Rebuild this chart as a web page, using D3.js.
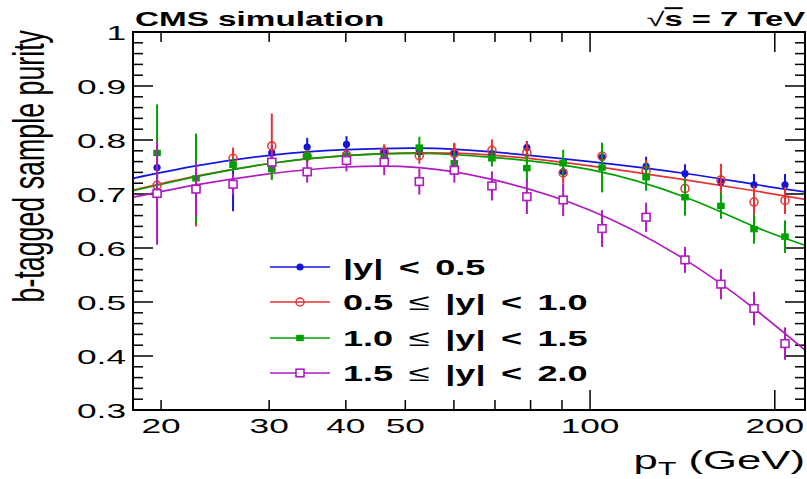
<!DOCTYPE html>
<html>
<head>
<meta charset="utf-8">
<title>b-tagged sample purity</title>
<style>
  body { margin: 0; background: #fff; }
  text { font-family: "Liberation Sans", Arial, sans-serif; fill: #000; }
</style>
</head>
<body>
<script src="https://cdn.jsdelivr.net/npm/d3@7"></script>
<script>
// bin centres (GeV)
var ptBins = [19.7, 22.8, 26.2, 30.3, 34.6, 40.1, 46.2, 52.7, 60.1, 69.2, 78.9, 90.4, 104.6, 123.4, 142.8, 163.4, 185, 207.8];

var blueVal  = [0.749, 0.709, 0.718, 0.776, 0.787, 0.792, 0.777, 0.778, 0.777, 0.775, 0.786, 0.741, 0.768, 0.751, 0.738, 0.722, 0.717, 0.717];
var blueErr  = [0.020, 0.030, 0.050, 0.015, 0.017, 0.015, 0.012, 0.012, 0.016, 0.012, 0.012, 0.012, 0.012, 0.018, 0.017, 0.014, 0.020, 0.020];
var redVal   = [0.716, 0.710, 0.766, 0.789, 0.770, 0.772, 0.777, 0.771, 0.775, 0.781, 0.777, 0.739, 0.770, 0.743, 0.710, 0.726, 0.685, 0.688];
var redErr   = [0.020, 0.070, 0.020, 0.060, 0.012, 0.012, 0.015, 0.015, 0.020, 0.020, 0.020, 0.020, 0.015, 0.020, 0.020, 0.030, 0.030, 0.025];
var greenVal = [0.776, 0.729, 0.754, 0.746, 0.770, 0.771, 0.769, 0.786, 0.757, 0.766, 0.748, 0.757, 0.749, 0.731, 0.694, 0.678, 0.635, 0.621];
var greenErr = [0.090, 0.083, 0.012, 0.020, 0.010, 0.012, 0.015, 0.020, 0.020, 0.015, 0.025, 0.025, 0.046, 0.025, 0.034, 0.024, 0.027, 0.030];
var purpVal  = [0.701, 0.709, 0.718, 0.759, 0.741, 0.762, 0.759, 0.723, 0.744, 0.715, 0.695, 0.689, 0.636, 0.657, 0.578, 0.533, 0.488, 0.423];
var purpErr  = [0.095, 0.050, 0.020, 0.015, 0.020, 0.020, 0.024, 0.024, 0.023, 0.027, 0.032, 0.030, 0.034, 0.027, 0.024, 0.028, 0.031, 0.030];

// fitted curves
var fitPt     = [18, 22.8, 30.3, 40, 52.7, 69.2, 100, 143, 185, 224];
var blueFit   = [0.729, 0.752, 0.772, 0.782, 0.785, 0.778, 0.760, 0.738, 0.718, 0.704];
var redFit    = [0.707, 0.733, 0.757, 0.771, 0.776, 0.772, 0.752, 0.726, 0.706, 0.690];
var greenFit  = [0.706, 0.732, 0.757, 0.771, 0.775, 0.768, 0.745, 0.694, 0.640, 0.605];
var purpFit   = [0.694, 0.717, 0.738, 0.750, 0.749, 0.727, 0.670, 0.578, 0.488, 0.411];

var legendLabels = [["|y| < 0.5"], ["0.5 ", "\u2264", " |y| < 1.0"], ["1.0 ", "\u2264", " |y| < 1.5"], ["1.5 ", "\u2264", " |y| < 2.0"]];
var xTickLabels = [20, 30, 40, 50, 100, 200];
var yTickLabels = ["0.3", "0.4", "0.5", "0.6", "0.7", "0.8", "0.9", "1"];

(function () {
  var series = [
    { val: blueVal,  err: blueErr,  fit: blueFit,  color: "#1414dc", marker: "dot" },
    { val: redVal,   err: redErr,   fit: redFit,   color: "#e83232", marker: "ocircle" },
    { val: greenVal, err: greenErr, fit: greenFit, color: "#00a000", marker: "square" },
    { val: purpVal,  err: purpErr,  fit: purpFit,  color: "#b01cc0", marker: "osquare" }
  ];

  var W = 807, H = 479;
  var pLeft = 133, pRight = 805, pTop = 32, pBottom = 410;
  var SX = 1.68; // the picture is stretched sideways

  var svg = d3.select("body").append("svg").attr("width", W).attr("height", H);

  var x = d3.scaleLog().domain([18, 224]).range([pLeft, pRight]);
  var y = d3.scaleLinear().domain([0.3, 1]).range([pBottom, pTop]);

  svg.append("clipPath").attr("id", "plot")
    .append("rect").attr("x", pLeft).attr("y", pTop).attr("width", pRight - pLeft).attr("height", pBottom - pTop);

  // ticks
  var ticks = svg.append("g").attr("stroke", "#000").attr("stroke-width", 1.5);
  d3.range(0, 36).forEach(function (k) {
    var v = 0.3 + k * 0.02;
    var len = (k % 5 === 0) ? 20 : 10;
    ticks.append("line").attr("x1", pLeft).attr("x2", pLeft + len).attr("y1", y(v)).attr("y2", y(v));
    ticks.append("line").attr("x1", pRight).attr("x2", pRight - len).attr("y1", y(v)).attr("y2", y(v));
  });
  [20, 30, 40, 50, 60, 70, 80, 90, 100, 200].forEach(function (v) {
    var len = (v === 100 || v === 200) ? 20 : 10;
    ticks.append("line").attr("x1", x(v)).attr("x2", x(v)).attr("y1", pBottom).attr("y2", pBottom - len);
    ticks.append("line").attr("x1", x(v)).attr("x2", x(v)).attr("y1", pTop).attr("y2", pTop + len);
  });

  // fits
  var line = d3.line().x(function (d) { return x(d[0]); }).y(function (d) { return y(d[1]); }).curve(d3.curveNatural);
  var fits = svg.append("g").attr("clip-path", "url(#plot)");
  series.forEach(function (s) {
    fits.append("path")
      .attr("d", line(fitPt.map(function (p, i) { return [p, s.fit[i]]; })))
      .attr("fill", "none").attr("stroke", s.color).attr("stroke-width", 1.7);
  });

  function drawMarker(g, type, color, cx, cy) {
    if (type === "dot") {
      g.append("circle").attr("cx", cx).attr("cy", cy).attr("r", 3.6).attr("fill", color);
    } else if (type === "ocircle") {
      g.append("circle").attr("cx", cx).attr("cy", cy).attr("r", 4)
        .attr("fill", "none").attr("stroke", color).attr("stroke-width", 1.5);
    } else if (type === "square") {
      g.append("rect").attr("x", cx - 3.8).attr("y", cy - 3.2).attr("width", 7.6).attr("height", 6.4).attr("fill", color);
    } else {
      g.append("rect").attr("x", cx - 4).attr("y", cy - 3.8).attr("width", 8).attr("height", 7.6)
        .attr("fill", "#fff").attr("stroke", color).attr("stroke-width", 1.6);
    }
  }

  // points with error bars
  series.forEach(function (s) {
    var g = svg.append("g");
    ptBins.forEach(function (p, i) {
      g.append("line").attr("x1", x(p)).attr("x2", x(p))
        .attr("y1", y(s.val[i] - s.err[i])).attr("y2", y(s.val[i] + s.err[i]))
        .attr("stroke", s.color).attr("stroke-width", 2);
    });
    ptBins.forEach(function (p, i) {
      drawMarker(g, s.marker, s.color, x(p), y(s.val[i]));
    });
  });

  // frame
  svg.append("rect").attr("x", pLeft).attr("y", pTop).attr("width", pRight - pLeft).attr("height", pBottom - pTop)
    .attr("fill", "none").attr("stroke", "#000").attr("stroke-width", 2);

  function stext(px, py, size, anchor, weight) {
    return svg.append("text")
      .attr("transform", "translate(" + px + "," + py + ") scale(" + SX + ",1)")
      .attr("font-size", size).attr("text-anchor", anchor).attr("font-weight", weight || "normal");
  }

  // tick labels
  yTickLabels.forEach(function (t) {
    stext(126, y(+t) + 7.5, 21, "end").text(t);
  });
  xTickLabels.forEach(function (t) {
    stext(x(t), 433, 21, "middle").text(t);
  });

  // axis titles
  svg.append("text")
    .attr("transform", "translate(44,30) scale(" + SX + ",1) rotate(-90)")
    .attr("font-size", 26.8).attr("text-anchor", "end")
    .text("b-tagged sample purity");

  var xt = stext(805, 469, 26, "end");
  xt.append("tspan").text("p");
  xt.append("tspan").attr("font-size", 18).attr("dy", 6).text("T");
  xt.append("tspan").attr("dy", -6).text(" (GeV)");

  // header texts
  stext(135, 26, 19.8, "start", "bold").text("CMS simulation");
  var en = stext(805, 26, 19.5, "end", "bold");
  en.append("tspan").attr("font-weight", "normal").text("\u221A");
  en.append("tspan").attr("text-decoration", "overline").text("s");
  en.append("tspan").text(" = 7 TeV");

  // legend
  var legY = [267, 302, 338, 373];
  series.forEach(function (s, i) {
    svg.append("line").attr("x1", 270).attr("x2", 330).attr("y1", legY[i]).attr("y2", legY[i])
      .attr("stroke", s.color).attr("stroke-width", 1.6);
    drawMarker(svg, s.marker, s.color, 300, legY[i]);
    var t = stext(343, legY[i] + 7.5, 21.5, "start", "bold").attr("word-spacing", 3.2);
    legendLabels[i].forEach(function (part) {
      var ts = t.append("tspan").text(part);
      if (part === "\u2264") ts.attr("font-weight", "normal").attr("font-size", 23);
    });
  });
})();
</script>
</body>
</html>
